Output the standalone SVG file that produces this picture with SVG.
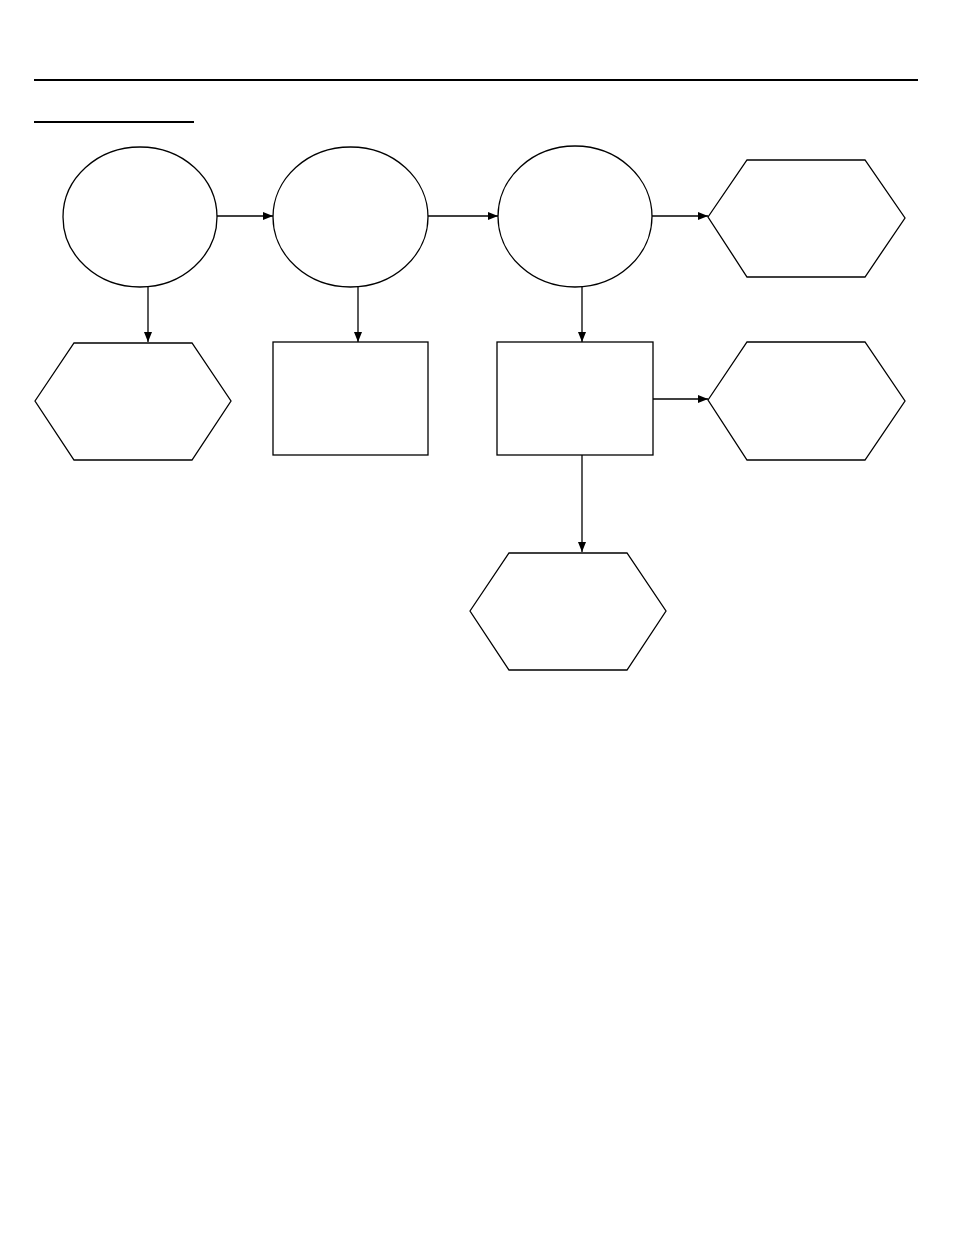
<svg xmlns="http://www.w3.org/2000/svg" width="954" height="1235" viewBox="0 0 954 1235">
<style>
.n{fill:#fff;stroke:#000;stroke-width:1.3}
.c{stroke:#000;stroke-width:1.3;fill:none;marker-end:url(#ah)}
</style>
<defs>
<marker id="ah" viewBox="0 0 10 8" refX="10" refY="4" markerWidth="10" markerHeight="8" markerUnits="userSpaceOnUse" orient="auto">
<path d="M0,0 L10,4 L0,8 Z" fill="#000"/>
</marker>
</defs>
<rect width="954" height="1235" fill="#fff"/>
<g id="rules">
<line x1="34" y1="80" x2="918" y2="80" stroke="#000" stroke-width="2"/>
<line x1="34" y1="122" x2="194" y2="122" stroke="#000" stroke-width="2"/>
</g>
<g id="connectors">
<line class="c" x1="217" y1="216" x2="273" y2="216"/>
<line class="c" x1="428" y1="216" x2="498" y2="216"/>
<line class="c" x1="652" y1="216" x2="708" y2="216"/>
<line class="c" x1="148" y1="287" x2="148" y2="342"/>
<line class="c" x1="358" y1="287" x2="358" y2="342"/>
<line class="c" x1="582" y1="287" x2="582" y2="342"/>
<line class="c" x1="653" y1="399" x2="708" y2="399"/>
<line class="c" x1="582" y1="455" x2="582" y2="552"/>
</g>
<g id="ellipse1"><ellipse class="n" cx="140" cy="217" rx="77" ry="70"/></g>
<g id="ellipse2"><ellipse class="n" cx="350.5" cy="217" rx="77.5" ry="70"/></g>
<g id="ellipse3"><ellipse class="n" cx="575" cy="216.5" rx="77" ry="70.5"/></g>
<g id="hex-top-right"><polygon class="n" points="708,217 747,160 865,160 905,218 865,277 747,277"/></g>
<g id="hex-left"><polygon class="n" points="35,401 74,343 192,343 231,401 192,460 74,460"/></g>
<g id="rect2"><rect class="n" x="273" y="342" width="155" height="113"/></g>
<g id="rect3"><rect class="n" x="497" y="342" width="156" height="113"/></g>
<g id="hex-mid-right"><polygon class="n" points="708,400 747,342 865,342 905,401 865,460 747,460"/></g>
<g id="hex-bottom"><polygon class="n" points="470,611 509,553 627,553 666,611 627,670 509,670"/></g>
</svg>
